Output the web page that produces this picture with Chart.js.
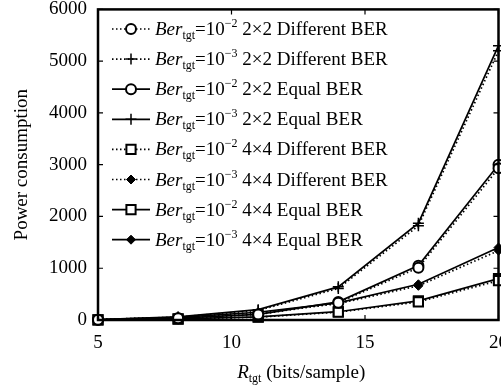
<!DOCTYPE html>
<html>
<head>
<meta charset="utf-8">
<script src="https://cdn.jsdelivr.net/npm/chart.js@4"></script>
<style>
  html, body { margin: 0; padding: 0; background: #fff; overflow: hidden; }
  #wrap { position: absolute; left: 0; top: -5px; width: 512px; height: 397px; }
</style>
</head>
<body>
<div id="wrap"><canvas id="chart"></canvas></div>
<script>
// Data
const rateValues = [5, 8, 11, 14, 17, 20];
const xTickValues = [5, 10, 15, 20];
const yTickValues = [0, 1000, 2000, 3000, 4000, 5000, 6000];

const diff2x2Ber2 = [5, 33, 105, 335, 1010, 2930];
const diff2x2Ber3 = [10, 55, 185, 610, 1820, 5200];
const equal2x2Ber2 = [5, 35, 110, 350, 1050, 3000];
const equal2x2Ber3 = [10, 60, 200, 640, 1870, 5300];
const diff4x4Ber2 = [3, 18, 55, 150, 350, 760];
const diff4x4Ber3 = [8, 48, 140, 315, 660, 1340];
const equal4x4Ber2 = [3, 20, 60, 160, 370, 800];
const equal4x4Ber3 = [8, 50, 150, 330, 690, 1400];

const seriesExp = ['\u22122', '\u22123', '\u22122', '\u22123', '\u22122', '\u22123', '\u22122', '\u22123'];
const seriesAntenna = ['2\u00d72', '2\u00d72', '2\u00d72', '2\u00d72', '4\u00d74', '4\u00d74', '4\u00d74', '4\u00d74'];
const seriesMode = ['Different BER', 'Different BER', 'Equal BER', 'Equal BER',
                    'Different BER', 'Different BER', 'Equal BER', 'Equal BER'];
const seriesValues = [diff2x2Ber2, diff2x2Ber3, equal2x2Ber2, equal2x2Ber3,
                      diff4x4Ber2, diff4x4Ber3, equal4x4Ber2, equal4x4Ber3];

const FONT = '"Liberation Serif", "Times New Roman", serif';
const DOTTED = [1.5, 2.5];
const SHIFT = 5; // canvas sits 5px above the page top

// marker styles: 2x2 -> circle / plus, 4x4 -> square / filled diamond
const markers = {
    circle: { pointStyle: 'circle', pointRadius: 5, pointBorderWidth: 2, pointBackgroundColor: '#fff' },
    cross: { pointStyle: 'cross', pointRadius: 5.5, pointBorderWidth: 1.5, pointBackgroundColor: '#000' },
    rect: { pointStyle: 'rect', pointRadius: 6.5, pointBorderWidth: 2, pointBackgroundColor: '#fff' },
    rectRot: { pointStyle: 'rectRot', pointRadius: 4.5, pointBorderWidth: 1, pointBackgroundColor: '#000' }
};

const datasets = seriesValues.map((vals, i) => {
    const is2x2 = seriesAntenna[i] === '2\u00d72';
    const isBer2 = seriesExp[i] === '\u22122';
    const marker = is2x2 ? (isBer2 ? markers.circle : markers.cross)
                         : (isBer2 ? markers.rect : markers.rectRot);
    return Object.assign({
        label: 'Ber_tgt=10^' + seriesExp[i] + ' ' + seriesAntenna[i] + ' ' + seriesMode[i],
        data: rateValues.map((x, k) => ({ x: x, y: vals[k] })),
        borderColor: '#000',
        borderWidth: 1.7,
        borderDash: seriesMode[i] === 'Different BER' ? DOTTED : [],
        pointBorderColor: '#000',
        tension: 0,
        clip: false
    }, marker);
});

// draw a run of text pieces (italic / sub / sup)
function drawRich(ctx, parts, x, y) {
    let cx = x;
    parts.forEach(p => {
        ctx.font = (p.italic ? 'italic ' : '') + p.size + 'px ' + FONT;
        ctx.fillText(p.t, cx, y + (p.dy || 0));
        cx += ctx.measureText(p.t).width;
    });
    return cx;
}

function richWidth(ctx, parts) {
    let w = 0;
    parts.forEach(p => {
        ctx.font = (p.italic ? 'italic ' : '') + p.size + 'px ' + FONT;
        w += ctx.measureText(p.t).width;
    });
    return w;
}

const framePlugin = {
    id: 'frame',
    afterDatasetsDraw(chart) {
        const { ctx, chartArea: a, scales } = chart;
        ctx.save();
        ctx.strokeStyle = '#000';
        ctx.setLineDash([]);
        // inward tick marks on all four sides
        ctx.lineWidth = 1.2;
        ctx.beginPath();
        xTickValues.forEach(v => {
            const px = scales.x.getPixelForValue(v);
            ctx.moveTo(px, a.bottom); ctx.lineTo(px, a.bottom - 5);
            ctx.moveTo(px, a.top); ctx.lineTo(px, a.top + 5);
        });
        yTickValues.forEach(v => {
            const py = scales.y.getPixelForValue(v);
            ctx.moveTo(a.left, py); ctx.lineTo(a.left + 5, py);
            ctx.moveTo(a.right, py); ctx.lineTo(a.right - 5, py);
        });
        ctx.stroke();
        // box
        ctx.lineWidth = 2.5;
        ctx.strokeRect(a.left, a.top, a.right - a.left, a.bottom - a.top);
        ctx.restore();
    },
    afterDraw(chart) {
        const { ctx, chartArea: a } = chart;
        ctx.save();
        ctx.fillStyle = '#000';
        ctx.textBaseline = 'alphabetic';

        // legend inside the plot, top left
        const lineX0 = 112, lineX1 = 150, markX = 131, textX = 155;
        const rowY0 = 29 + SHIFT, rowDY = 30.1;
        chart.data.datasets.forEach((ds, i) => {
            const y = rowY0 + i * rowDY;
            ctx.strokeStyle = '#000';
            ctx.lineWidth = ds.borderWidth;
            ctx.setLineDash(ds.borderDash);
            ctx.beginPath();
            ctx.moveTo(lineX0, y); ctx.lineTo(lineX1, y);
            ctx.stroke();
            ctx.setLineDash([]);
            ctx.fillStyle = ds.pointBackgroundColor;
            ctx.lineWidth = ds.pointBorderWidth;
            Chart.helpers.drawPoint(ctx, {
                pointStyle: ds.pointStyle, radius: ds.pointRadius,
                rotation: 0, borderWidth: ds.pointBorderWidth
            }, markX, y);
            ctx.fillStyle = '#000';
            drawRich(ctx, [
                { t: 'Ber', size: 19, italic: true },
                { t: 'tgt', size: 12, dy: 4 },
                { t: '=10', size: 19 },
                { t: seriesExp[i], size: 12, dy: -8 },
                { t: ' ' + seriesAntenna[i] + ' ' + seriesMode[i], size: 19 }
            ], textX, y + 6);
        });

        // x axis title
        const title = [
            { t: 'R', size: 19, italic: true },
            { t: 'tgt', size: 12, dy: 4 },
            { t: ' (bits/sample)', size: 19 }
        ];
        const w = richWidth(ctx, title);
        drawRich(ctx, title, (a.left + a.right) / 2 - w / 2 + 3, 378 + SHIFT);
        ctx.restore();
    }
};

new Chart(document.getElementById('chart'), {
    type: 'line',
    data: { datasets: datasets },
    options: {
        responsive: true,
        maintainAspectRatio: false,
        animation: false,
        events: [],
        layout: { padding: 0 },
        plugins: {
            legend: { display: false },
            tooltip: { enabled: false }
        },
        scales: {
            x: {
                type: 'linear',
                min: 5,
                max: 20,
                afterFit(scale) { scale.height = 72; },
                afterBuildTicks(scale) { scale.ticks = xTickValues.map(v => ({ value: v })); },
                grid: { display: false },
                border: { display: false },
                ticks: {
                    color: '#000',
                    padding: 4,
                    maxRotation: 0,
                    font: { family: FONT, size: 19 },
                    callback: v => String(v)
                }
            },
            y: {
                type: 'linear',
                min: 0,
                max: 6000,
                afterFit(scale) { scale.width = 98; },
                afterBuildTicks(scale) { scale.ticks = yTickValues.map(v => ({ value: v })); },
                grid: { display: false },
                border: { display: false },
                title: {
                    display: true,
                    text: 'Power consumption',
                    color: '#000',
                    padding: { top: 11, bottom: 0 },
                    font: { family: FONT, size: 19 }
                },
                ticks: {
                    color: '#000',
                    padding: 3,
                    font: { family: FONT, size: 19 },
                    callback: v => String(v)
                }
            }
        }
    },
    plugins: [framePlugin]
});
</script>
</body>
</html>
